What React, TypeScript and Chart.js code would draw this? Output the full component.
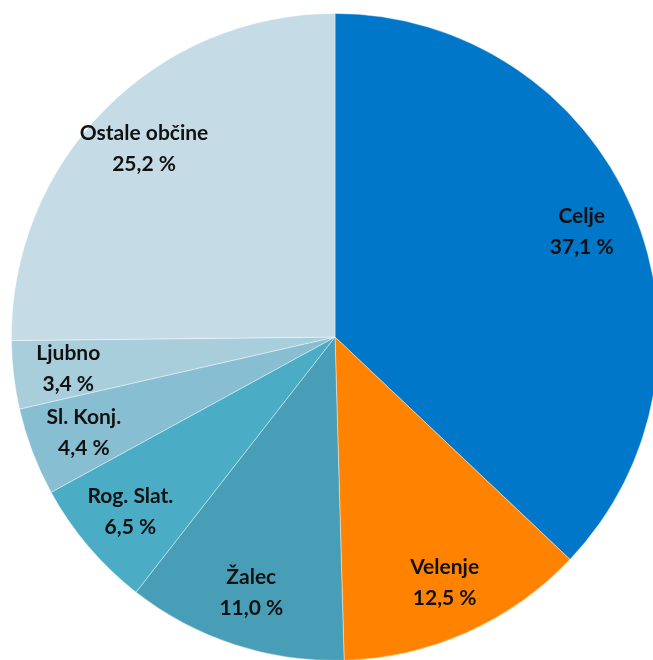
import React, { useEffect, useRef } from "react";
import { Chart, registerables } from "chart.js";

Chart.register(...registerables);

const categories = ["Celje", "Velenje", "Žalec", "Rog. Slat.", "Sl. Konj.", "Ljubno", "Ostale občine"];
const shares = [37.1, 12.5, 11.0, 6.5, 4.4, 3.4, 25.2];
const colors = ["#0077C8", "#FF8300", "#489EB6", "#4BACC6", "#87BED2", "#A8CEDC", "#C5DCE6"];

const fmt = (v: number) => v.toFixed(1).replace(".", ",") + " %";

const labelPlugin = {
  id: "sliceLabels",
  afterDatasetsDraw(chart: any) {
    const ctx = chart.ctx;
    const meta = chart.getDatasetMeta(0);
    ctx.save();
    ctx.font = "bold 21px Lato, 'Open Sans', sans-serif";
    ctx.fillStyle = "#111";
    ctx.textAlign = "center";
    ctx.textBaseline = "middle";
    meta.data.forEach((arc: any, i: number) => {
      const p = arc.getProps(["x", "y", "startAngle", "endAngle", "outerRadius"], true);
      const mid = (p.startAngle + p.endAngle) / 2;
      const r = p.outerRadius * 0.83;
      const cx = p.x + Math.cos(mid) * r;
      const cy = p.y + Math.sin(mid) * r;
      ctx.fillText(categories[i], cx, cy - 15);
      ctx.fillText(fmt(shares[i]), cx, cy + 16);
    });
    ctx.restore();
  },
};

export default function App() {
  const ref = useRef<HTMLCanvasElement>(null);
  useEffect(() => {
    if (!ref.current) return;
    const chart = new Chart(ref.current, {
      type: "pie",
      data: {
        labels: categories,
        datasets: [
          {
            data: shares,
            backgroundColor: colors,
            borderColor: "rgba(255,255,255,0.5)",
            borderWidth: 0.8,
          },
        ],
      },
      options: {
        responsive: false,
        animation: false,
        layout: { padding: 0 },
        plugins: { legend: { display: false }, tooltip: { enabled: false } },
      },
      plugins: [labelPlugin],
    });
    return () => chart.destroy();
  }, []);
  return (
    <div style={{ position: "fixed", left: 0, top: 0, width: 653, height: 660, overflow: "hidden", background: "#fff" }}>
      <canvas ref={ref} width={648} height={648} style={{ position: "absolute", left: 11, top: 13, width: 648, height: 648 }} />
    </div>
  );
}
